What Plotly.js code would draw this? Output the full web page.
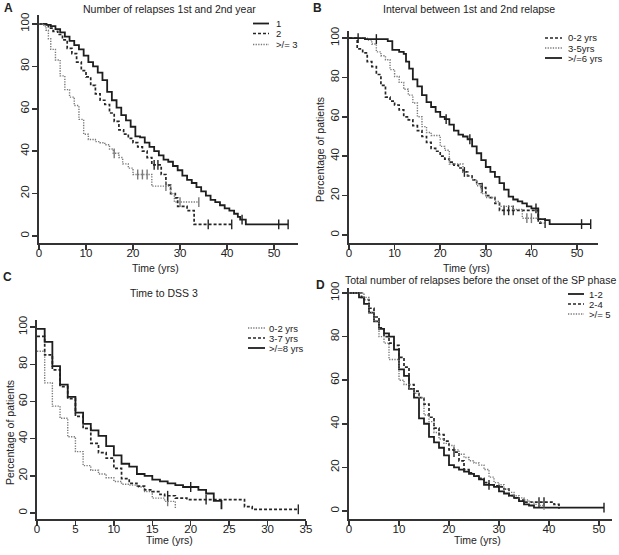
<!DOCTYPE html>
<html><head><meta charset="utf-8">
<script src="https://cdn.plot.ly/plotly-3.0.1.min.js"></script>
<style>html,body{margin:0;padding:0;background:#fff}#chart{width:619px;height:555px}</style>
</head><body><div id="chart"></div>
<script>
// ---------- DATA ----------
// Panel A: Number of relapses 1st and 2nd year
const A_names = ["1", "2", ">/= 3"];
const A1_t = [0,1.6,2.5,3.5,4.5,5.5,6.5,7.5,8.5,9.5,10.5,11.5,12.5,13.5,14.5,15.5,16.5,17.5,18.5,19.5,20.5,21.5,22.5,23.5,24.5,25.5,26.5,27.5,28.5,29.5,30.5,31.5,32.5,33.5,34.5,35.5,36.5,37.5,38.5,39.5,40.5,41.5,42.3,42.8,44,53];
const A1_s = [100,99.5,99,97.5,96,94,92,90,88,85,82,80,77,73.5,68,64,60.5,57,54.5,51.5,47,46.5,44,42,40,38,36,35,33,31,28.5,26.5,25,23,21,19,17,16,14.5,13,12,10.5,9,7.7,5.5,5.5];
const A1_c = [43.2,51,53];
const A2_t = [0,2,3,4,5,6,7,8,9,10,11,12,13,14,15,16,17,18,19,20,21,22,23,24,26,27,28,29,29.5,31.5,33,41];
const A2_s = [100,98,96.5,95,92.5,88.5,86,82,78,75,71,67,64,62,58,54,50,48,46,44,42,40,37,33.5,29,24,20,18,14,12,5.5,5.5];
const A2_c = [24.5,25.3,36,41];
const A3_t = [0,1,1.5,2,2.5,3.5,4.5,5.5,6.5,7.5,8.5,9.5,10.5,12,13,14,15,15.8,17,17.8,19,20,24,28,28.8,34];
const A3_s = [100,99,97,93,88,83,75.5,69,65.5,61.5,55,48,45.5,44.5,44,43,41,39,37,34,32,29,23.5,20,16,16];
const A3_c = [16,21,22,23,27,30,34];

// Panel B: Interval between 1st and 2nd relapse
const B_names = ["0-2 yrs", "3-5yrs", ">/=6 yrs"];
const B1_t = [0,1.8,3,4,5,6,7,8,9,10,11,12,13,14,15,16,17,18,19,20,21,22,23,24,25,26,27,28,29,30,31,32,33,41.5,43];
const B1_s = [100,94.5,92.5,88,85.5,81.5,76,70,68,66,63.5,60,58.5,55.5,53,50,47,44,42.5,40,38.5,37,35.5,34,32,30,28,26,24,20,19,16,12.5,6,6];
const B1_c = [25.3,29.2,34,35,36,43];
const B2_t = [0,4,5,6,7,8,9,10,11,12,13,14,15,16,17,18,20,21,22,25,26,27,28,29,30,32,33,36,38,42,43];
const B2_s = [100,99,97,93,91,89,84,80.5,77.5,74,71,67,60,55,52,50.5,45,43,36,32,30,28,25,21,19,17,14.5,13,8.5,6,6];
const B2_c = [39,40];
const B3_t = [0,3.5,8.5,9.5,11,12,12.5,13.2,14,15,16,17,18,19,20,21,22,23,24,25,26,27,28,29,30,31,32,33,34,35,36,37,38,39,40,41.5,43,44,53];
const B3_s = [100,99.5,98.5,94,93,92,88,84.5,79,75.5,71,67.5,65,62.5,60,58.8,56,53,51,50,48.6,45,41.5,38,34.5,32,29.5,26.3,23,19.5,18,17,16,14.5,13.5,8,7.5,5.5,5.5];
const B3_c = [2,6,21.3,26.5,41,51,53];

// Panel C: Time to DSS 3
const C_names = ["0-2 yrs", "3-7 yrs", ">/=8 yrs"];
const C1_t = [0,1,2,3,4,5,6,7,8,9,10,11,12,13,14,15,16.6,18];
const C1_s = [87,70,57.5,51,41,33,25.5,23,21,19,17,15.5,15,14,11.5,8,6.3,2];
const C1_c = [17];
const C2_t = [0,1,2,3,4,5,6,7,8,9,10,11,12,13,14,15,16,16.6,18,19.5,27,28,34];
const C2_s = [95,85,77,68,61.5,52,45.5,37.5,32.5,29.5,24,18.5,16,14.5,12.5,11.5,10,9.3,8,7.2,3.5,2,2];
const C2_c = [17,22,34];
const C3_t = [0,1,2,3,4,5,6,7,8,9,10,11,12,13,14,15,16,17,18,19,21,22,23,24];
const C3_s = [99,92,79,69,62.5,54,48,44.5,41.5,36,31,26.5,25,21,20,18,17,16,15,14,12.5,10.5,6.5,2];
const C3_c = [20];

// Panel D: Total number of relapses before the onset of the SP phase
const D_names = ["1-2", "2-4", ">/= 5"];
const D1_t = [0,2,3,4,5,6,7,8,9,10,11,12,13,14,15,16,17,18,19,20,21,22,23,24,25,26,27,29,30,31,32,33,34,35,36,37,51];
const D1_s = [100,98,95,91,87,83.5,81.5,80,74,65,62,56,52,42.5,40,34,31.5,29,25.5,21,20,19,18,17,16,14.5,12,11,9,8,7,6,4.5,3,2.5,1.5,1.5];
const D1_c = [28,51];
const D2_t = [0,2.5,3,4,5,6,7,8,9,10,11,12,13,14,15,16,17,18,19,20,21,22,23,24,25,26,27,28,29,30,31,32,33,34,35,40,41,42];
const D2_s = [100,98,97,93,89,84,80,77,76,70.5,66,58,55,52,49,43,38,35,32,28,27,23,19,17.5,16,15,13,12,11.5,11,10,7,6,5,4,4,3,1];
const D2_c = [21,38,39];
const D3_t = [0,3,4,5,6,7,8,10,11,12,13,14,15,16,17,18,19,20,21,22,23,24,25,26,27,28,29,30,31,32,33,34,35,36,37,38,39];
const D3_s = [100,98,91,87,80,77,69.5,60,58,56,54,52,44,41,36,33,31,30,28,26,24.5,23,22,21,19,15.5,13,12,10,8.5,7,6,5,4,3,2.5,0.5];
const D3_c = [];

const xTicksA = [0,10,20,30,40,50];
const xTicksC = [0,5,10,15,20,25,30,35];
const yTicks = [0,20,40,60,80,100];

// ---------- STYLE ----------
const W = 619, H = 555;
const FONT = "Liberation Sans, Arial, Helvetica, sans-serif";
const TXT = "#222";
const AX = "#333";
const styles = {
  solid:  {color:"#1e1e1e", width:1.8, dash:"solid"},
  dashed: {color:"#262626", width:1.7, dash:"3px,2px"},
  dotted: {color:"#7a7a7a", width:1.4, dash:"1.3px,1.3px"}
};

function stepAt(ts, ss, t){ let v = ss[0]; for (let i=0;i<ts.length;i++){ if (ts[i] <= t) v = ss[i]; } return v; }

const traces = [];
function addCurve(ts, ss, cs, st, ax){
  const s = styles[st];
  const xa = ax === "1" ? "x" : "x"+ax, ya = ax === "1" ? "y" : "y"+ax;
  traces.push({x: ts, y: ss, type:"scatter", mode:"lines", line:{shape:"hv", color:s.color, width:s.width, dash:s.dash},
    xaxis: xa, yaxis: ya, hoverinfo:"skip"});
  if (cs.length){
    traces.push({x: cs, y: cs.map(t => stepAt(ts, ss, t)), type:"scatter", mode:"markers",
      marker:{symbol:"line-ns-open", size:7, color:s.color, line:{color:s.color, width:1.4}},
      xaxis: xa, yaxis: ya, hoverinfo:"skip"});
  }
}
addCurve(A1_t, A1_s, A1_c, "solid", "1");
addCurve(A2_t, A2_s, A2_c, "dashed", "1");
addCurve(A3_t, A3_s, A3_c, "dotted", "1");
addCurve(B1_t, B1_s, B1_c, "dashed", "2");
addCurve(B2_t, B2_s, B2_c, "dotted", "2");
addCurve(B3_t, B3_s, B3_c, "solid", "2");
addCurve(C1_t, C1_s, C1_c, "dotted", "3");
addCurve(C2_t, C2_s, C2_c, "dashed", "3");
addCurve(C3_t, C3_s, C3_c, "solid", "3");
addCurve(D1_t, D1_s, D1_c, "solid", "4");
addCurve(D2_t, D2_s, D2_c, "dashed", "4");
addCurve(D3_t, D3_s, D3_c, "dotted", "4");

function xAxis(x0, x1, range, ticks, anchor){
  return {domain:[x0/W, x1/W], range: range, anchor: anchor, tickvals: ticks, ticktext: ticks.map(String),
    showline:true, linecolor:AX, linewidth:2, ticks:"outside", ticklen:5, tickwidth:1.5, tickcolor:AX,
    ticklabelstandoff:-7,
    showgrid:false, zeroline:false, tickfont:{family:FONT, size:11.5, color:TXT}, fixedrange:true};
}
function yAxis(y0, y1, range, anchor){
  return {domain:[1 - y1/H, 1 - y0/H], range: range, anchor: anchor, tickvals: yTicks, ticktext: yTicks.map(String),
    showline:true, linecolor:AX, linewidth:2, ticks:"outside", ticklen:5, tickwidth:1.5, tickcolor:AX, tickangle:-90,
    ticklabelstandoff:-2,
    showgrid:false, zeroline:false, tickfont:{family:FONT, size:11.5, color:TXT}, fixedrange:true};
}

const layout = {
  width: W, height: H, margin:{l:0, r:0, t:0, b:0}, showlegend:false,
  paper_bgcolor:"#fff", plot_bgcolor:"#fff",
  xaxis:  xAxis(39, 298, [0, 55.1], xTicksA, "y"),
  yaxis:  yAxis(15, 243, [-3.3, 104.2], "x"),
  xaxis2: xAxis(349, 598, [0, 54.6], xTicksA, "y2"),
  yaxis2: yAxis(31, 243, [-4.1, 103.6], "x2"),
  xaxis3: xAxis(37, 306, [0, 35], xTicksC, "y3"),
  yaxis3: yAxis(320, 519, [-3.2, 103.8], "x3"),
  xaxis4: xAxis(349, 612, [0, 52.6], xTicksA, "y4"),
  yaxis4: yAxis(288, 519, [-3.7, 102.3], "x4"),
  annotations: [], shapes: []
};

function txt(x, y, text, size, opts){
  layout.annotations.push(Object.assign({xref:"paper", yref:"paper", x:x/W, y:1 - y/H, text:text, showarrow:false,
    xanchor:"center", yanchor:"middle", font:{family:FONT, size:size, color:TXT}, borderpad:0}, opts||{}));
}
// titles
txt(170, 9, "Number of relapses 1st and 2nd year", 10.5);
txt(469, 9, "Interval between 1st and 2nd relapse", 10.5);
txt(164, 293, "Time to DSS 3", 10.5);
txt(480, 280, "Total number of relapses before the onset of the SP phase", 10.5);
// panel letters
txt(8, 8, "<b>A</b>", 12);
txt(317, 8, "<b>B</b>", 12);
txt(7, 277, "<b>C</b>", 12);
txt(320, 285, "<b>D</b>", 12);
// axis titles
txt(155, 268, "Time (yrs)", 10.5);
txt(466, 268, "Time (yrs)", 10.5);
txt(170, 540, "Time (yrs)", 10.5);
txt(477, 540, "Time (yrs)", 10.5);
txt(320, 150, "Percentage of patients", 10.5, {textangle:-90});
txt(10, 433, "Percentage of patients", 10.5, {textangle:-90});

// legends
function legend(lx0, lx1, tx, rows, names, sts){
  rows.forEach((ry, i) => {
    const s = styles[sts[i]];
    layout.shapes.push({type:"line", xref:"paper", yref:"paper", x0:lx0/W, x1:lx1/W, y0:1 - ry/H, y1:1 - ry/H,
      line:{color:s.color, width:s.width, dash:s.dash}});
    txt(tx, ry, names[i], 9.5, {xanchor:"left"});
  });
}
legend(253, 269, 275, [23.5, 33.5, 44.5], A_names, ["solid","dashed","dotted"]);
legend(545, 562, 567, [38, 48, 58], B_names, ["dashed","dotted","solid"]);
legend(248, 265, 268, [328, 338, 348], C_names, ["dotted","dashed","solid"]);
legend(568, 584, 588, [294, 304, 314], D_names, ["solid","dashed","dotted"]);

Plotly.newPlot("chart", traces, layout, {staticPlot:true, displayModeBar:false});
</script></body></html>
